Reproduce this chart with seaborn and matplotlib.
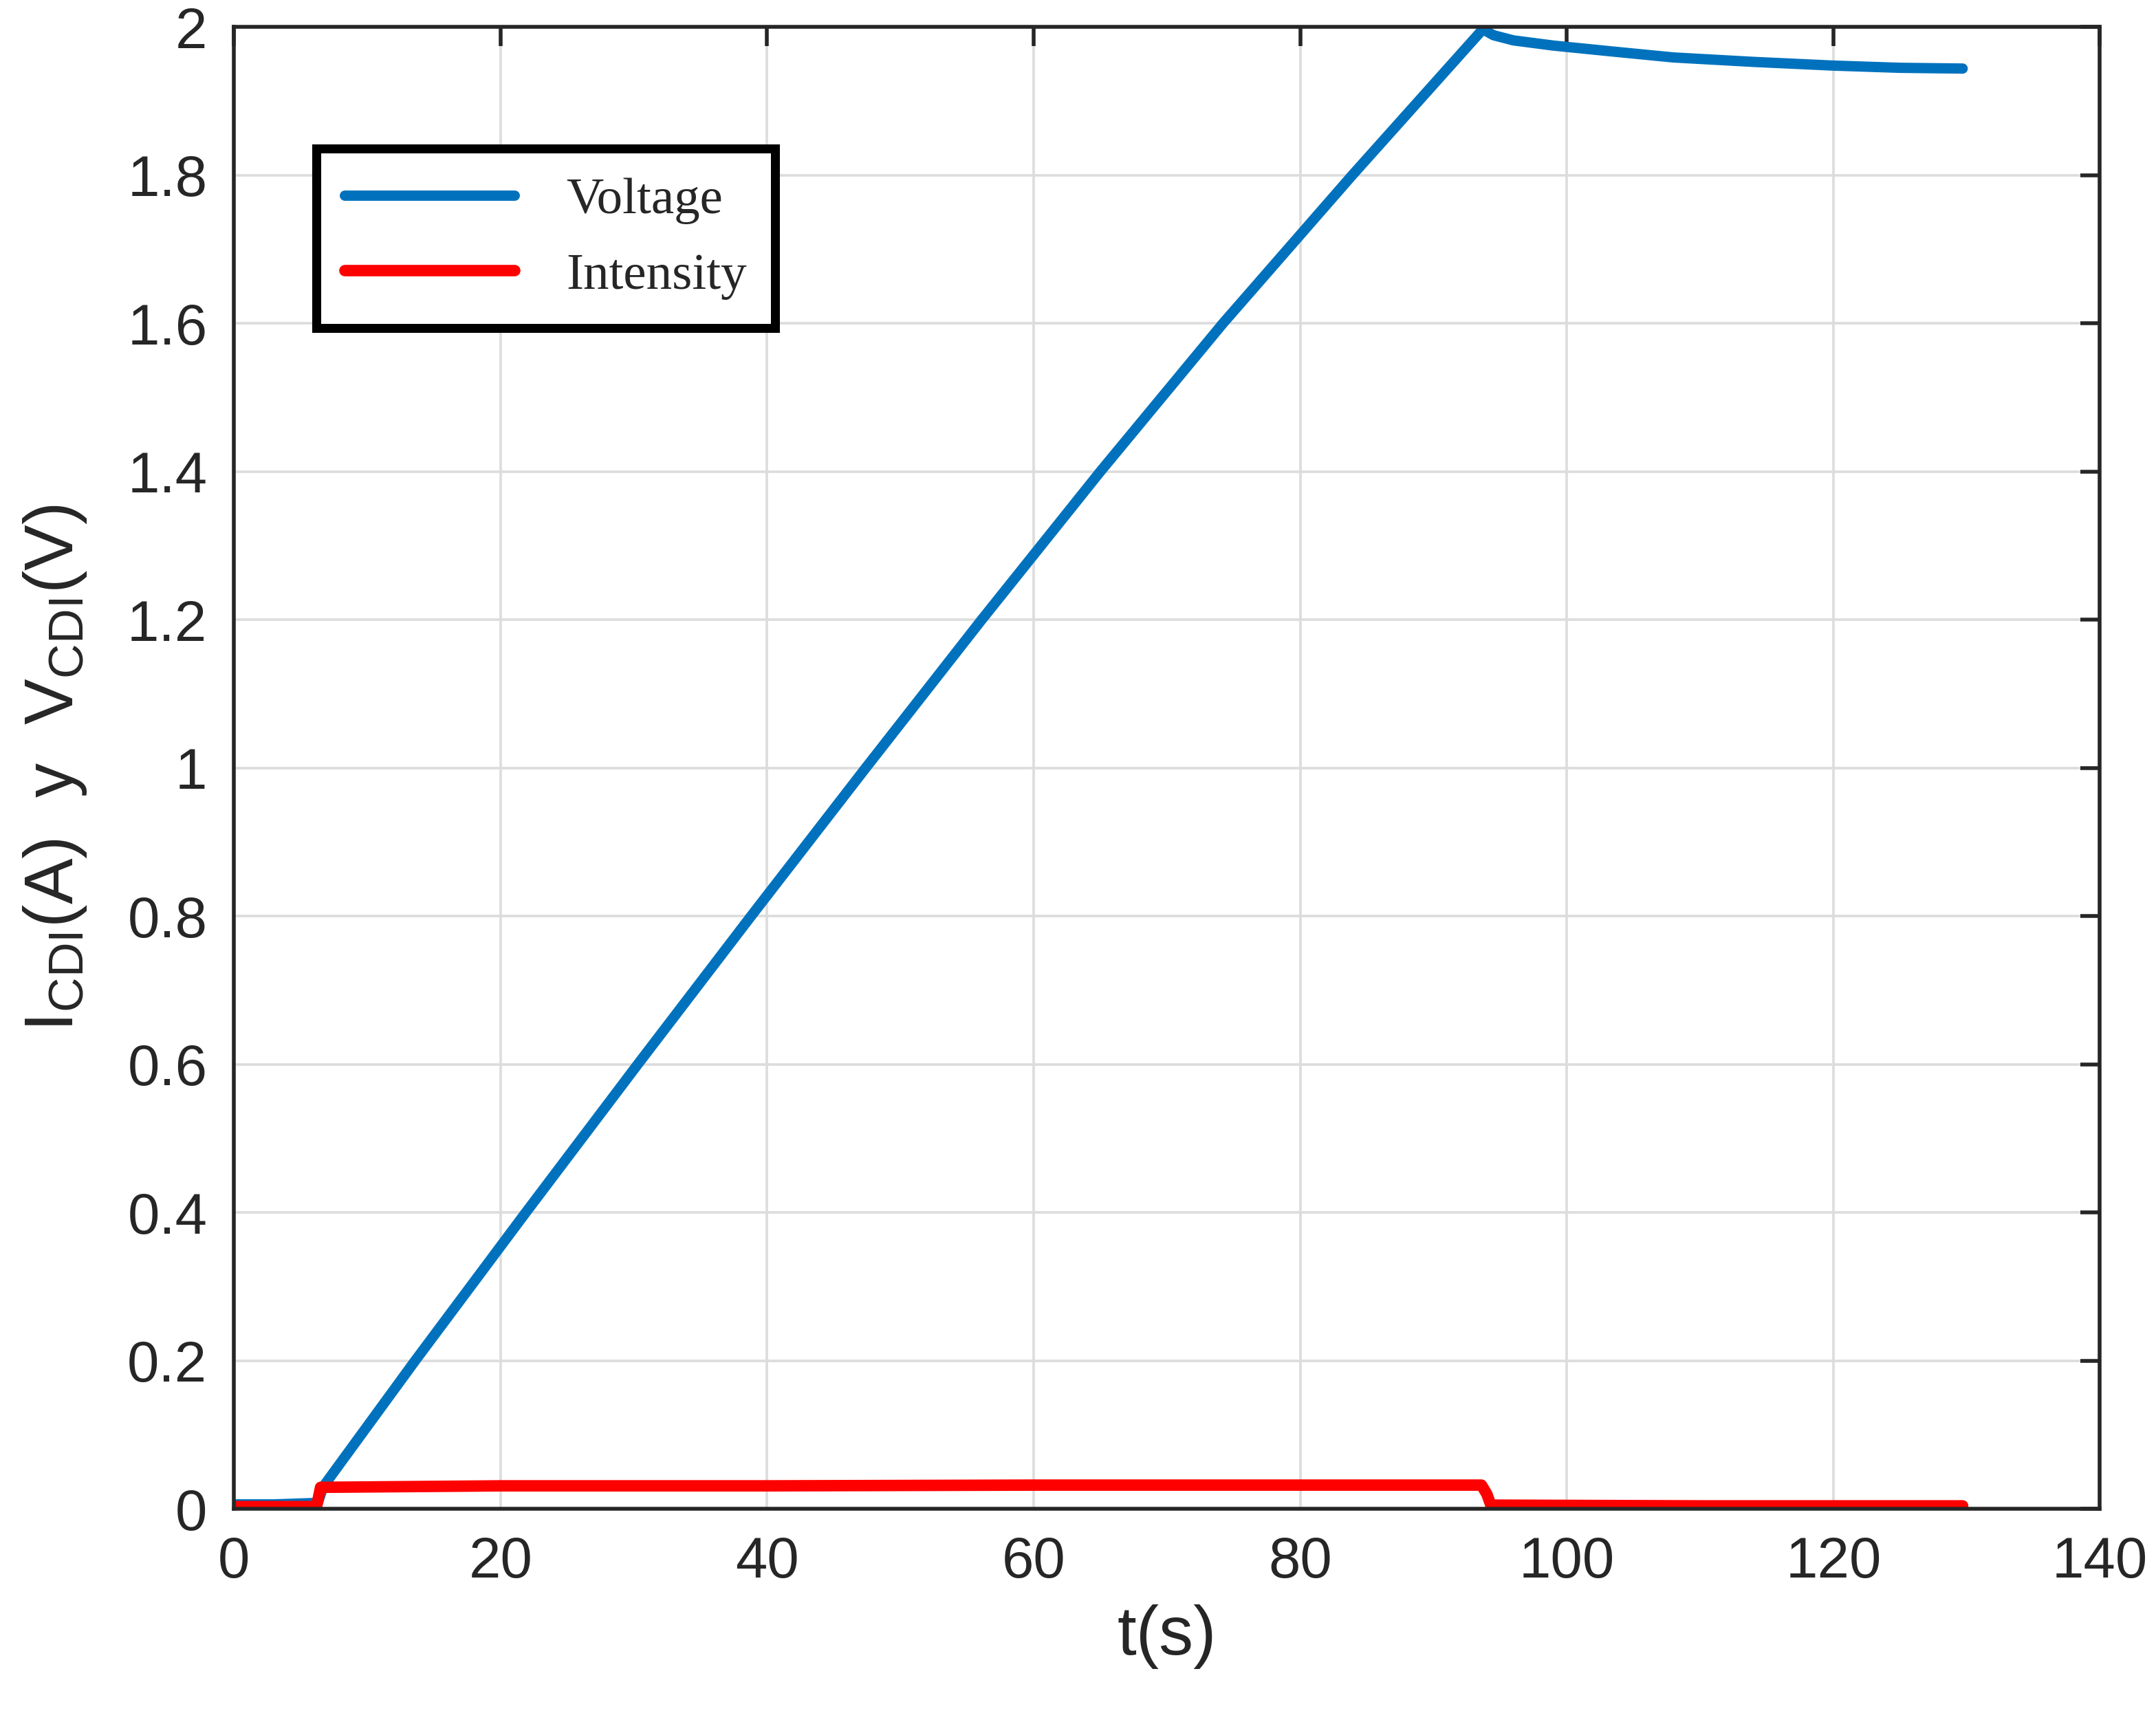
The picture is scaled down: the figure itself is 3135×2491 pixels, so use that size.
import numpy as np
import pandas as pd
import matplotlib
matplotlib.use("Agg")
import matplotlib.pyplot as plt
from matplotlib.ticker import FuncFormatter
import seaborn as sns

# values
t_voltage = [0, 3, 6.3, 6.7, 13.6, 21.9, 30.3, 38.8, 47.4, 56.1, 65.0, 74.2,
             83.9, 93.7, 94.5, 96.0, 99.0, 104, 108, 114, 120, 125, 129.7]
voltage = [0.006, 0.006, 0.008, 0.03, 0.2, 0.4, 0.6, 0.8, 1.0, 1.2, 1.4, 1.6,
           1.8, 1.997, 1.989, 1.982, 1.975, 1.966, 1.959, 1.953, 1.948, 1.945, 1.944]

t_intensity = [0, 6.2, 6.5, 20, 40, 60, 80, 93.6, 94.0, 94.3, 110, 129.7]
intensity = [0.003, 0.003, 0.029, 0.031, 0.031, 0.032, 0.032, 0.032, 0.02, 0.005, 0.004, 0.004]

x_ticks = [0, 20, 40, 60, 80, 100, 120, 140]
y_ticks = [0, 0.2, 0.4, 0.6, 0.8, 1.0, 1.2, 1.4, 1.6, 1.8, 2.0]

sns.set_style("white")
plt.rcParams['font.family'] = ['Liberation Sans', 'DejaVu Sans']

fig = plt.figure(figsize=(15.675, 12.455), dpi=200)
ax = fig.add_axes([0.1085, 0.1192, 0.8655, 0.865])

dark = '#262626'

sns.lineplot(x=t_voltage, y=voltage, ax=ax, color='#0072BD', linewidth=5.4,
             label='Voltage', estimator=None, sort=False)
sns.lineplot(x=t_intensity, y=intensity, ax=ax, color='#FF0000', linewidth=6.0,
             label='Intensity', estimator=None, sort=False)

ax.set_xlim(0, 140)
ax.set_ylim(0, 2)
ax.set_xticks(x_ticks)
ax.set_yticks(y_ticks)
ax.yaxis.set_major_formatter(FuncFormatter(lambda v, p: '%g' % v))
ax.grid(True, color='#dcdcdc', linewidth=1.3)
ax.set_axisbelow(True)

for sp in ax.spines.values():
    sp.set_color(dark)
    sp.set_linewidth(2.0)

ax.tick_params(direction='in', length=10, width=2.0, colors=dark,
               labelsize=30, top=True, right=True, pad=14)
for lab in ax.get_xticklabels() + ax.get_yticklabels():
    lab.set_color(dark)

ax.set_xlabel('t(s)', fontsize=36, color=dark, labelpad=8)
ax.set_ylabel(r'I$\mathregular{_{CDI}}$(A)  y  V$\mathregular{_{CDI}}$(V)',
              fontsize=36, color=dark, labelpad=20)

leg = ax.legend(loc='upper left', bbox_to_anchor=(0.044, 0.918),
                borderaxespad=0, fancybox=False, framealpha=1,
                edgecolor='black', handlelength=3.3, handletextpad=1.0,
                labelspacing=0.55, borderpad=0.55,
                prop={'family': 'Liberation Serif', 'size': 27})
leg.get_frame().set_linewidth(4.7)

fig.savefig('out.png', dpi=200)
